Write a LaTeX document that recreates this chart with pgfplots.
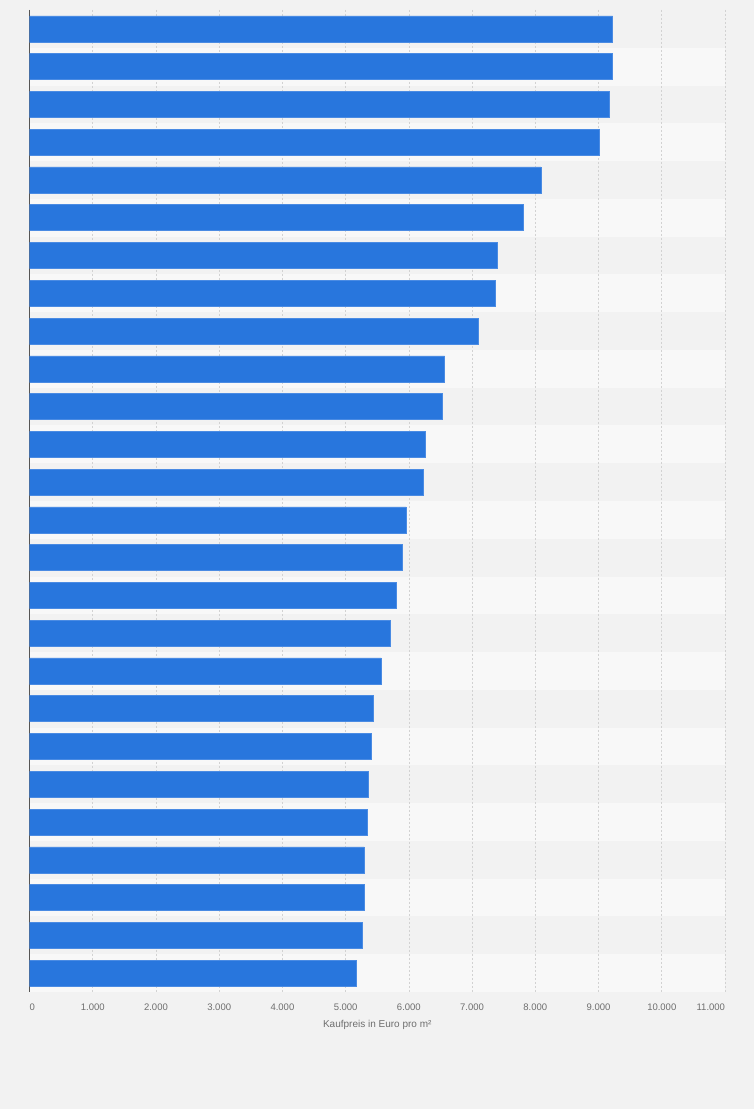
\documentclass[border=0pt]{standalone}
\usepackage{pgfplots}
\pgfplotsset{compat=1.18}
\usepackage{fontspec}
\setmainfont{Liberation Sans}

\definecolor{barblue}{HTML}{2876DD}
\definecolor{bardraw}{HTML}{4A8BE3}
\definecolor{bgout}{HTML}{F2F2F2}
\definecolor{banddark}{HTML}{F2F2F2}
\definecolor{bandlight}{HTML}{F8F8F8}
\definecolor{gridgrey}{HTML}{D2D2D2}
\definecolor{axisgrey}{HTML}{555555}
\definecolor{textgrey}{HTML}{6E6E6E}

\begin{document}
\begin{tikzpicture}
\path (0,0) rectangle (754pt,1109pt);
\begin{axis}[
    set layers,
    at={(29.5pt,117pt)}, anchor=south west,
    width=695.5pt, height=982pt, scale only axis,
    xbar, bar width=26pt,
    xmin=0, xmax=11000,
    ymin=0.5, ymax=26.5, y dir=reverse,
    axis x line*=bottom, axis y line*=left,
    x axis line style={draw=none},
    y axis line style={draw=axisgrey, line width=1pt},
    ytick=\empty,
    xtick={0,1000,...,11000},
    scaled x ticks=false,
    xticklabels={\rlap{0},1.000,2.000,3.000,4.000,5.000,6.000,7.000,8.000,9.000,10.000,\llap{11.000}},
    major tick length=0pt,
    xticklabel style={font=\fontsize{9.5}{11}\selectfont, text=textgrey, anchor=north, inner sep=0pt, yshift=-12pt},
    xmajorgrids,
    grid style={draw=gridgrey, line width=0.7pt, dash pattern=on 2pt off 2pt},
    xlabel={Kaufpreis in Euro pro m²},
    xlabel style={at={(axis description cs:0.5,0)}, anchor=north, inner sep=0pt, yshift=-28.5pt, font=\fontsize{10}{12}\selectfont, text=textgrey},
]
\begin{pgfonlayer}{axis background}
\fill[bgout] (rel axis cs:0,0) ++(-29.5pt,-117pt) rectangle ++(754pt,1109pt);
\pgfplotsinvokeforeach{1,3,...,25}{
  \fill[banddark] (axis cs:0,#1-0.5) rectangle (axis cs:11000,#1+0.5);
}
\pgfplotsinvokeforeach{2,4,...,26}{
  \fill[bandlight] (axis cs:0,#1-0.5) rectangle (axis cs:11000,#1+0.5);
}
\end{pgfonlayer}
\addplot[xbar, fill=barblue, draw=bardraw, line width=0.5pt] coordinates {
  (9222,1) (9222,2) (9173,3) (9004,4) (8087,5) (7813,6) (7402,7)
  (7364,8) (7102,9) (6564,10) (6533,11) (6258,12) (6233,13) (5957,14)
  (5894,15) (5799,16) (5704,17) (5562,18) (5436,19) (5404,20) (5363,21)
  (5347,22) (5293,23) (5293,24) (5262,25) (5167,26)
};
\end{axis}
\end{tikzpicture}
\end{document}
